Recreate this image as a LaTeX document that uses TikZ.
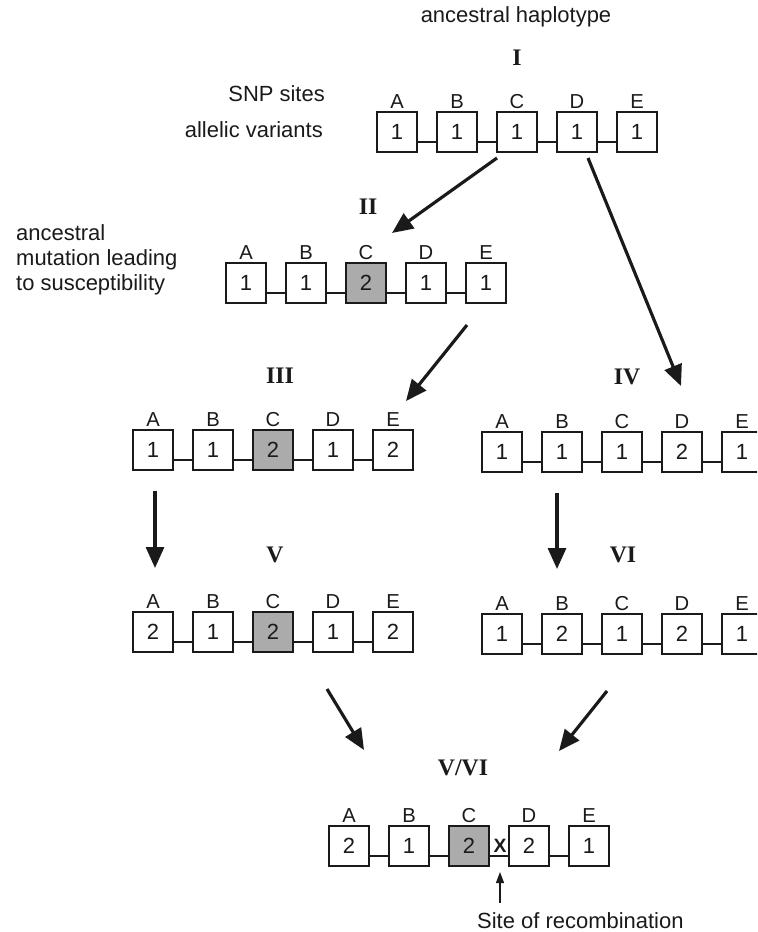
\documentclass[tikz,border=0pt]{standalone}
\usepackage{fontspec}
\setmainfont{Liberation Serif}
\setsansfont{Liberation Sans}
\usetikzlibrary{arrows.meta}
\definecolor{hapink}{HTML}{1A1A1A}
\definecolor{hapgray}{HTML}{ABABAB}

\begin{document}
\begin{tikzpicture}[
  x=0.02cm,
  y=-0.02cm,
  every node/.style={font=\sffamily\fontsize{12.5}{14}\selectfont, hapink},
  site/.style={draw=hapink, line width=0.7pt, fill=white, inner sep=0pt,
               minimum width=0.8cm, minimum height=0.8cm,
               font=\sffamily\fontsize{12.5}{14}\selectfont},
  mutant/.style={site, fill=hapgray},
  sitelab/.style={anchor=south, inner sep=1.5pt, font=\sffamily\fontsize{11.5}{13}\selectfont},
  link/.style={hapink, line width=0.6pt},
  stage/.style={font=\rmfamily\bfseries\fontsize{13.5}{15}\selectfont},
  descent/.style={hapink, line width=1.8pt, -{Triangle[length=0.42cm, width=0.36cm]}},
  pointer/.style={hapink, line width=0.7pt, -{Triangle[length=0.22cm, width=0.16cm]}},
  xmark/.style={font=\sffamily\bfseries\fontsize{11}{12}\selectfont, inner sep=0pt}
]
  % ---- page frame, the right edge cuts row IV and VI ----
  \useasboundingbox (0,0) rectangle (757,932);
  \clip (0,0) rectangle (757,932);

  % ---- side texts ----
  \node (anc) at (516,17) {ancestral haplotype};
  \node[anchor=east] (snp) at (331,94) {SNP sites};
  \node[anchor=east] (allel) at (329,130) {allelic variants};
  \node[anchor=west, align=left, font=\sffamily\fontsize{12.5}{14.2}\selectfont]
    (mut) at (10,260) {ancestral\\mutation leading\\to susceptibility};

  % ---- stage numbers ----
  \node[stage] (sI)   at (517,58)  {I};
  \node[stage] (sII)  at (368,207) {II};
  \node[stage] (sIII) at (280,376) {III};
  \node[stage] (sIV)  at (627,377) {IV};
  \node[stage] (sV)   at (275,555) {V};
  \node[stage] (sVI)  at (623,555) {VI};
  \node[stage] (sVVI) at (463,768) {V/VI};

  % ---- the haplotypes: row name / centre of box A / alleles ----
  \foreach \r/\x/\y/\a/\b/\c/\d/\e in {
      I/397/132/1/1/1/1/1,
      II/246/283/1/1/2/1/1,
      III/153/450/1/1/2/1/2,
      IV/502/452/1/1/1/2/1,
      V/153/632/2/1/2/1/2,
      VI/502/634/1/2/1/2/1,
      VVI/349/846/2/1/2/2/1} {
    \foreach \s/\v [count=\i from 0] in {A/\a, B/\b, C/\c, D/\d, E/\e} {
      \ifnum\i=2
        \ifnum\v=2 \def\look{mutant}\else\def\look{site}\fi
      \else \def\look{site}\fi
      \node[\look] (\r-\s) at (\x+60*\i,\y) {\v};
      \node[sitelab] (\r-\s-lab) at (\r-\s.north) {\s};
    }
    \foreach \p/\q in {A/B, B/C, C/D, D/E}
      \draw[link] ([yshift=-0.2cm]\r-\p.east) -- ([yshift=-0.2cm]\r-\q.west);
  }

  % ---- descent arrows ----
  \coordinate (fI-C)    at (497,158);
  \coordinate (fI-D)    at (588,158);
  \coordinate (toII)    at (392,233);
  \coordinate (toIV)    at (681,386);
  \coordinate (fII-E)   at (467,325);
  \coordinate (toIII)   at (406,401);
  \coordinate (fIII-A)  at (155,491);
  \coordinate (toV)     at (155,568);
  \coordinate (fIV-B)   at (557,493);
  \coordinate (toVI)    at (557,569);
  \coordinate (fV)      at (327,689);
  \coordinate (fVI)     at (607,691);
  \coordinate (toVVI-l) at (364,750);
  \coordinate (toVVI-r) at (559,751);

  \draw[descent] (fI-C) -- (toII);
  \draw[descent] (fI-D) -- (toIV);
  \draw[descent] (fII-E) -- (toIII);
  \draw[descent] (fIII-A) -- (toV);
  \draw[descent] (fIV-B) -- (toVI);
  \draw[descent] (fV) -- (toVVI-l);
  \draw[descent] (fVI) -- (toVVI-r);

  % ---- recombination site ----
  \node[xmark] (cross) at (500,846) {X};
  \node[anchor=west] (recomb) at (471,921) {Site of recombination};
  \coordinate (rtail) at (500,903);
  \coordinate (rtip)  at (500,872);
  \draw[pointer] (rtail) -- (rtip);
\end{tikzpicture}
\end{document}
